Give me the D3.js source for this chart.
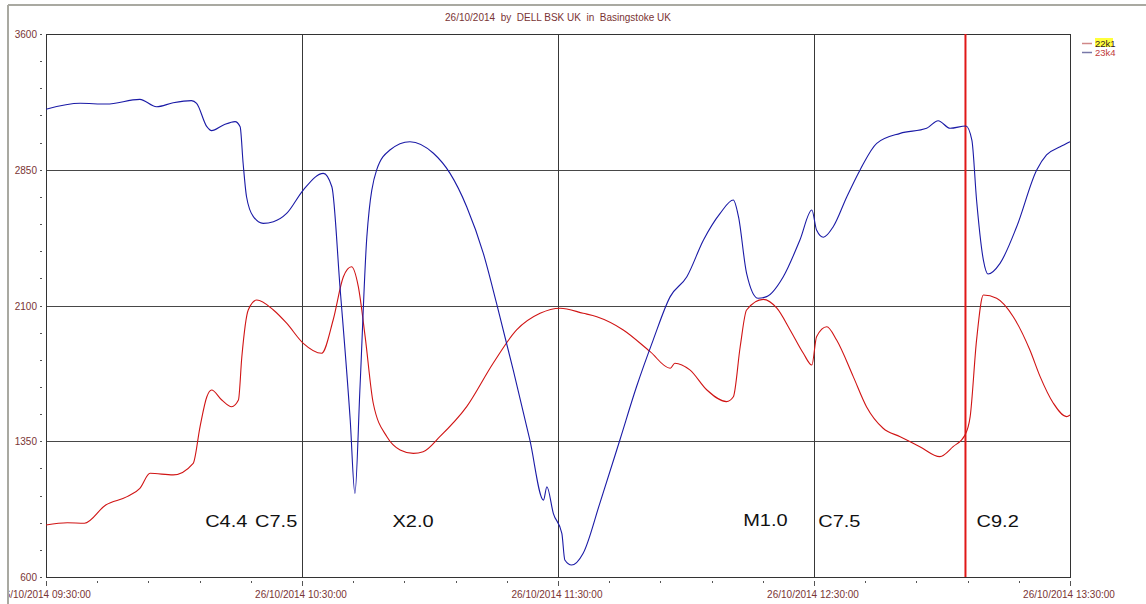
<!DOCTYPE html>
<html>
<head>
<meta charset="utf-8">
<script src="https://cdn.jsdelivr.net/npm/d3@7"></script>
<style>
  body { margin: 0; background: #fff; }
  svg { display: block; font-family: "Liberation Sans", Arial, sans-serif; }
</style>
</head>
<body>
<div id="chart"></div>
<script>
// minutes after 09:30 on 26/10/2014
var redMinutes = [0, 5, 9, 14, 19, 22, 24.4, 29.8, 34.5, 36.1,
  37.7, 38.8, 41.2, 43.5, 45.1, 45.9, 47.4, 49.4, 53.3, 56.4,
  60.3, 64.6, 67.3, 69.7, 71.6, 73.2, 74.8, 76.7, 79.9, 83,
  86.1, 88.4, 92.3, 98.6, 104.8, 110.3, 115.8, 120.5, 125.9, 129.1,
  135.3, 141.6, 146.3, 147.4, 150.9, 154.9, 159.5, 161.1, 162.7, 164.2,
  168.1, 171.3, 174.4, 177.5, 179.5, 180.6, 183, 185.3, 189.2, 192.3,
  196.2, 200.2, 204.8, 209.5, 212.6, 215.4, 216.6, 218.1, 219.7, 222.8,
  226.7, 230.6, 233, 236.1, 239.2, 240];
var redValues = [887, 900, 897, 998, 1044, 1090, 1173, 1164, 1228, 1430,
  1596, 1633, 1578, 1541, 1578, 1817, 2075, 2130, 2075, 2002,
  1891, 1836, 2020, 2259, 2314, 2204, 1928, 1560, 1375, 1302,
  1283, 1292, 1375, 1541, 1781, 1965, 2057, 2085, 2057, 2038,
  1965, 1845, 1753, 1781, 1744, 1633, 1569, 1596, 1872, 2075,
  2134, 2085, 1965, 1836, 1771, 1928, 1983, 1909, 1707, 1541,
  1422, 1375, 1320, 1265, 1320, 1385, 1486, 1909, 2158, 2140,
  2038, 1854, 1707, 1560, 1486, 1495];

var blueMinutes = [0, 8, 14.2, 22, 25.9, 29.8, 34.1, 35.3, 37.7, 38.8,
  41.6, 44.3, 45.5, 46.2, 47, 48.6, 50.9, 53.3, 56.4, 60.3,
  65, 67, 68.9, 71.3, 72.4, 73.6, 75.2, 77.5, 80.6, 85.3,
  90.8, 94.7, 98.6, 102.5, 105.6, 109.5, 113.4, 116.6, 117.4, 118.9,
  120.9, 121.6, 123.2, 125.9, 129.8, 134.5, 138.4, 142.3, 146.3, 150.2,
  154.1, 158, 161.1, 162.3, 164.2, 166.9, 168.9, 172.8, 176.7, 179.5,
  180.6, 182.2, 184.5, 187.7, 190.8, 194.7, 200.2, 206.4, 209.1, 211.9,
  215.6, 217, 218.1, 219.7, 220.8, 223.6, 227.5, 232.2, 234.5, 237.7,
  240];
var blueValues = [3184, 3217, 3213, 3239, 3198, 3220, 3232, 3217, 3088, 3066,
  3097, 3116, 3088, 2886, 2701, 2591, 2554, 2563, 2609, 2738,
  2830, 2756, 2204, 1467, 1062, 1651, 2480, 2849, 2959, 3005,
  2941, 2830, 2646, 2388, 2112, 1744, 1357, 1025, 1099, 952,
  841, 694, 666, 731, 1007, 1357, 1651, 1909, 2149, 2259,
  2462, 2609, 2683, 2591, 2278, 2140, 2149, 2259, 2462, 2628,
  2517, 2477, 2535, 2701, 2849, 2996, 3051, 3079, 3121, 3079,
  3092, 3014, 2683, 2351, 2274, 2333, 2535, 2849, 2932, 2977,
  3005];

var seriesNames = ["22k1", "23k4"];
var flareLabels = ["C4.4", "C7.5", "X2.0", "M1.0", "C7.5", "C9.2"];
var flareMinutes = [37.3, 49.0, 81.2, 163.4, 181.0, 218.1];
var flareLevels = [876, 876, 876, 884, 876, 876];
var markerMinute = 215.5;

var yMin = 600, yMax = 3600, yMajor = 750, yMinor = 150;
var titleText = "26/10/2014  by  DELL BSK UK  in  Basingstoke UK";

var width = 1146, height = 604;
var margin = {top: 34, right: 76, bottom: 27, left: 46};
var plotW = width - margin.left - margin.right;
var plotH = height - margin.top - margin.bottom;

var start = new Date(2014, 9, 26, 9, 30, 0);
var toDate = function(m) { return new Date(start.getTime() + m * 60000); };
var fmt = d3.timeFormat("%d/%m/%Y %H:%M:%S");
var labelColor = "#7a3434";

var svg = d3.select("#chart").append("svg")
  .attr("width", width)
  .attr("height", height);

svg.append("text")
  .attr("x", margin.left + plotW / 2).attr("y", 21)
  .attr("text-anchor", "middle")
  .style("white-space", "pre")
  .style("font-size", "10px").style("fill", labelColor)
  .text(titleText);

var g = svg.append("g")
  .attr("transform", "translate(" + margin.left + "," + margin.top + ")");

var x = d3.scaleTime().domain([start, toDate(240)]).range([0, plotW]);
var y = d3.scaleLinear().domain([yMin, yMax]).range([plotH, 0]);

// y axis: small ticks every 150, labels every 750
var yTicks = d3.range(yMin, yMax + 1, yMinor);
g.selectAll("line.ytick").data(yTicks).enter().append("line")
  .attr("x1", -6).attr("x2", -4)
  .attr("y1", function(d) { return Math.round(y(d)) + 0.5; })
  .attr("y2", function(d) { return Math.round(y(d)) + 0.5; })
  .style("stroke", "#555").style("stroke-width", 1);
g.selectAll("text.ylab").data(d3.range(yMin, yMax + 1, yMajor)).enter().append("text")
  .attr("x", -9).attr("y", function(d) { return y(d) + 4; })
  .attr("text-anchor", "end")
  .style("font-size", "10px").style("fill", labelColor)
  .text(function(d) { return d; });

// x axis: ticks every 12 minutes, labels on the hour ticks
var xTicks = d3.range(0, 241, 12);
g.selectAll("line.xtick").data(xTicks).enter().append("line")
  .attr("x1", function(m) { return Math.round(x(toDate(m))) + 0.5; })
  .attr("x2", function(m) { return Math.round(x(toDate(m))) + 0.5; })
  .attr("y1", plotH + 4)
  .attr("y2", function(m) { return m % 60 === 0 ? plotH + 9 : plotH + 6; })
  .style("stroke", "#555").style("stroke-width", 1);
g.selectAll("text.xlab").data(d3.range(0, 241, 60)).enter().append("text")
  .attr("x", function(m) { return x(toDate(m)) - 1; })
  .attr("y", plotH + 21)
  .attr("text-anchor", "middle")
  .style("font-size", "10px").style("fill", labelColor)
  .text(function(m) { return fmt(toDate(m)); });

// grid
g.selectAll("line.hgrid").data(d3.range(yMin + yMajor, yMax, yMajor)).enter().append("line")
  .attr("x1", 0).attr("x2", plotW)
  .attr("y1", function(d) { return Math.round(y(d)) + 0.5; })
  .attr("y2", function(d) { return Math.round(y(d)) + 0.5; })
  .style("stroke", "#484848").style("stroke-width", 1);
g.selectAll("line.vgrid").data([60, 120, 180]).enter().append("line")
  .attr("x1", function(m) { return Math.round(x(toDate(m))) + 0.5; })
  .attr("x2", function(m) { return Math.round(x(toDate(m))) + 0.5; })
  .attr("y1", 0).attr("y2", plotH)
  .style("stroke", "#383838").style("stroke-width", 1);

g.append("rect")
  .attr("x", 0.5).attr("y", 0.5).attr("width", plotW).attr("height", plotH)
  .style("fill", "none").style("stroke", "#333").style("stroke-width", 1);

// flare marker
g.append("line")
  .attr("x1", x(toDate(markerMinute))).attr("x2", x(toDate(markerMinute)))
  .attr("y1", 0).attr("y2", plotH)
  .style("stroke", "#e01818").style("stroke-width", 2);

var line = d3.line()
  .x(function(d) { return x(toDate(d[0])); })
  .y(function(d) { return y(d[1]); })
  .curve(d3.curveMonotoneX);

g.append("path")
  .datum(d3.zip(redMinutes, redValues))
  .attr("d", line)
  .style("fill", "none").style("stroke", "#d01414").style("stroke-width", 1.1);
g.append("path")
  .datum(d3.zip(blueMinutes, blueValues))
  .attr("d", line)
  .style("fill", "none").style("stroke", "#1a1aa6").style("stroke-width", 1.1);

// flare class annotations
g.selectAll("text.flare").data(d3.zip(flareLabels, flareMinutes, flareLevels)).enter().append("text")
  .attr("transform", function(d) {
    return "translate(" + x(toDate(d[1])) + "," + y(d[2]) + ") scale(1,0.87)";
  })
  .style("font-size", "20px").style("fill", "#111")
  .text(function(d) { return d[0]; });

// legend
var legend = svg.append("g").attr("transform", "translate(1082,43)");
var swatch = ["#d08888", "#7878a8"];
legend.selectAll("line").data(seriesNames).enter().append("line")
  .attr("x1", 0).attr("x2", 10)
  .attr("y1", function(d, i) { return i * 9 + 0.5; })
  .attr("y2", function(d, i) { return i * 9 + 0.5; })
  .style("stroke", function(d, i) { return swatch[i]; }).style("stroke-width", 1.5);
legend.append("rect")
  .attr("x", 13).attr("y", -5).attr("width", 18).attr("height", 9)
  .style("fill", "#ffff3c");
legend.selectAll("text").data(seriesNames).enter().append("text")
  .attr("x", 13).attr("y", function(d, i) { return i * 9 + 3.5; })
  .style("font-size", "9.5px")
  .style("fill", function(d, i) { return i === 0 ? "#332222" : "#c03a3a"; })
  .text(function(d) { return d; });

// window frame: whatever sits left of it is cut off
svg.append("rect").attr("x", 0).attr("y", 0).attr("width", 8).attr("height", height)
  .style("fill", "#fff");
svg.append("line").attr("x1", 8).attr("x2", width).attr("y1", 5).attr("y2", 5)
  .style("stroke", "#a9a9a1").style("stroke-width", 2);
svg.append("line").attr("x1", 8).attr("x2", 8).attr("y1", 5).attr("y2", height)
  .style("stroke", "#a9a9a1").style("stroke-width", 2);
</script>
</body>
</html>
